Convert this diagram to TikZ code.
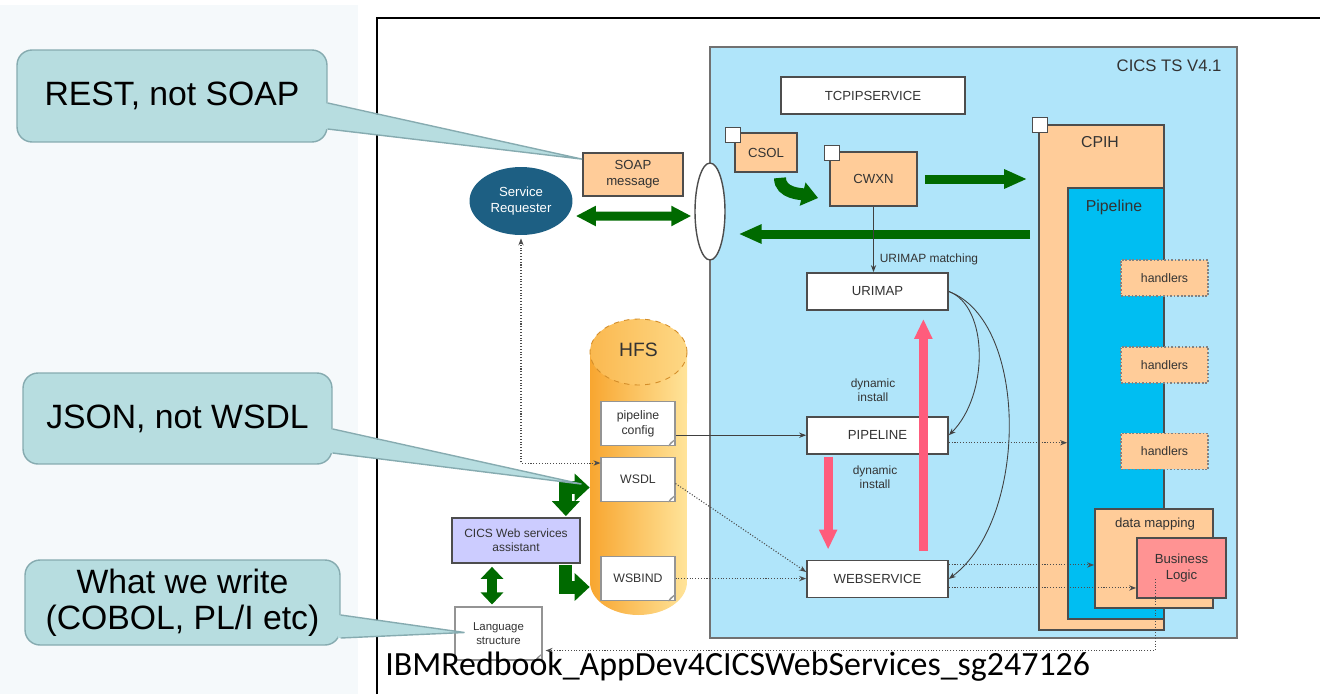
\documentclass[tikz,border=0pt]{standalone}
\usepackage{fontspec}
\setmainfont{Liberation Sans}
\newfontfamily\captionfont{Carlito}
\usetikzlibrary{shapes.geometric, arrows.meta, positioning, fit, calc}

\definecolor{panelbg}{HTML}{F5F9FB}
\definecolor{calloutfill}{HTML}{B7DDE0}
\definecolor{calloutline}{HTML}{86ABB0}
\definecolor{cicsblue}{HTML}{B0E5FA}
\definecolor{pipeblue}{HTML}{00BEF2}
\definecolor{peach}{HTML}{FFCC99}
\definecolor{logicpink}{HTML}{FF9393}
\definecolor{lavender}{HTML}{CCCCFF}
\definecolor{reqblue}{HTML}{1D5F83}
\definecolor{arrowgreen}{HTML}{006A00}
\definecolor{installpink}{HTML}{FF5C7C}
\definecolor{boxline}{HTML}{4D4D4D}
\definecolor{textgray}{HTML}{333333}
\definecolor{hfsorange}{HTML}{F8A630}
\definecolor{hfsyellow}{HTML}{FFE49A}

\begin{document}
\begin{tikzpicture}[
    x=0.02cm, y=-0.02cm,
    callout/.style={rectangle, rounded corners=0.3cm, draw=calloutline, line width=0.8pt, fill=calloutfill, inner sep=0pt, align=center, font=\fontsize{19.2}{20.4}\selectfont},
    res/.style={rectangle, draw=boxline, line width=1pt, fill=white, minimum width=2.82cm, minimum height=0.74cm, font=\fontsize{7.5}{9}\selectfont, text=textgray},
    task/.style={rectangle, draw=boxline, line width=1pt, fill=peach, inner sep=0pt, align=center, font=\fontsize{7.5}{9}\selectfont, text=textgray},
    tab/.style={rectangle, draw=boxline, line width=0.8pt, fill=white, minimum size=0.3cm, inner sep=0pt},
    handler/.style={rectangle, draw=boxline!70, densely dotted, line width=1pt, fill=peach, minimum width=1.74cm, minimum height=0.72cm, font=\fontsize{7}{8}\selectfont, text=textgray},
    doc/.style={rectangle, draw=boxline!60, line width=0.6pt, fill=white, minimum width=1.48cm, minimum height=0.88cm, align=center, font=\fontsize{7}{8.4}\selectfont, text=textgray},
    note/.style={align=center, font=\fontsize{6.8}{8}\selectfont, text=textgray},
    title/.style={font=\fontsize{9}{11}\selectfont, text=textgray},
    greenarrow/.style={draw=arrowgreen, line width=0.18cm, -{Triangle[length=0.46cm, width=0.36cm]}},
    greenboth/.style={draw=arrowgreen, line width=0.18cm, {Triangle[length=0.4cm, width=0.38cm]}-{Triangle[length=0.4cm, width=0.38cm]}},
    fatgreen/.style={draw=arrowgreen, line width=0.26cm, -{Triangle[length=0.3cm, width=0.54cm]}},
    fatgreenboth/.style={draw=arrowgreen, line width=0.26cm, {Triangle[length=0.3cm, width=0.54cm]}-{Triangle[length=0.3cm, width=0.54cm]}},
    pinkarrow/.style={draw=installpink, line width=0.18cm, -{Triangle[length=0.4cm, width=0.34cm]}},
    thinarrow/.style={draw=black!75, line width=0.5pt, -{Stealth[length=4pt, width=3pt]}},
    dotarrow/.style={draw=black!70, densely dotted, line width=0.6pt, -{Stealth[length=4pt, width=3pt]}},
    dotboth/.style={draw=black!70, densely dotted, line width=0.6pt, {Stealth[length=4pt, width=3pt]}-{Stealth[length=4pt, width=3pt]}}
    ]

    \useasboundingbox (0,0) rectangle (1320,694);

    % Backgrounds and frame
    \fill[panelbg] (0,5) rectangle (358,694);
    \draw[black, line width=1.3pt] (377,694) -- (377,18) -- (1320,18);

    % Callouts
    \node[callout, minimum width=6.2cm, minimum height=1.84cm] (rest) at (172,96) {REST, not SOAP};
    \node[callout, minimum width=6.18cm, minimum height=1.82cm] (json) at (177.5,418.5) {JSON, not WSDL};
    \node[callout, minimum width=6.3cm, minimum height=1.7cm] (write) at (182.5,602.5) {What we write\\(COBOL, PL/I etc)};

    % CICS region
    \node[draw=boxline!80, line width=1pt, fill=cicsblue, fit={(710,47) (1237,638)}, inner sep=0pt] (cics) {};
    \node[anchor=east, inner sep=0pt, font=\fontsize{9.5}{11}\selectfont, text=textgray] (cicsname) at ($(cics.north east)+(-16,20)$) {CICS TS V4.1};

    \node[res, minimum width=3.68cm] (tcpip) at (873,95.5) {TCPIPSERVICE};
    \node[task, minimum width=1.24cm, minimum height=0.78cm] (csol) at (766,152.5) {CSOL};
    \node[task, minimum width=1.74cm, minimum height=1.08cm] (cwxn) at (873.5,179) {CWXN};
    \node[tab] (csoltab) at ($(csol.north west)+(-1,3)$) {};
    \node[tab] (cwxntab) at ($(cwxn.north west)+(3,2)$) {};

    % CPIH and the pipeline
    \node[task, fit={(1039,125) (1164,630)}] (cpih) {};
    \node[tab] (cpihtab) at ($(cpih.north west)+(2,1)$) {};
    \node[title] (cpihname) at (1100,142) {CPIH};
    \node[rectangle, draw=boxline, line width=1pt, fill=pipeblue, fit={(1068,188) (1164,619)}, inner sep=0pt] (pipeline) {};
    \node[title] (pipename) at (1114,207) {Pipeline};
    \node[handler] (h1) at (1164.5,278) {handlers};
    \node[handler, below=0.98cm of h1] (h2) {handlers};
    \node[handler, below=0.98cm of h2] (h3) {handlers};
    \node[task, fit={(1095,509) (1213,608)}] (dmap) {};
    \node[note, font=\fontsize{7.5}{9}\selectfont] (dmapname) at (1155,524) {data mapping};
    \node[rectangle, draw=boxline, line width=1pt, fill=logicpink, minimum width=1.78cm, minimum height=1.2cm, inner sep=0pt, align=center, font=\fontsize{7.5}{9}\selectfont, text=textgray] (logic) at (1181.5,568) {Business\\Logic};

    % Resources
    \node[res] (urimap) at (877.5,291.5) {URIMAP};
    \node[res, below=2.1cm of urimap] (pipe) {PIPELINE};
    \node[res, below=2.1cm of pipe] (websvc) {WEBSERVICE};

    % Requester side
    \node[ellipse, draw=boxline, line width=0.8pt, fill=white, minimum width=0.6cm, minimum height=1.94cm] (oval) at (710,211.5) {};
    \node[ellipse, fill=reqblue, minimum width=2.06cm, minimum height=1.36cm, align=center, text=white, font=\fontsize{7.5}{9}\selectfont] (req) at (521,201) {Service\\Requester};
    \node[task, minimum width=2cm, minimum height=0.86cm] (soap) at (633,174.5) {SOAP\\message};

    % HFS cylinder
    \shade[left color=hfsorange, right color=hfsyellow] (590,352) -- (590,582) arc[start angle=180, end angle=360, x radius=0.97cm, y radius=0.66cm] -- (687,352) -- cycle;
    \shade[left color=hfsorange!70!hfsyellow, right color=hfsyellow!80!hfsorange] (638.5,352) ellipse [x radius=0.97cm, y radius=0.66cm];
    \draw[dashed, draw=hfsorange!85!black, line width=0.5pt] (638.5,352) ellipse [x radius=0.97cm, y radius=0.66cm];
    \node[fit={(590,319) (687,615)}, inner sep=0pt] (hfsbody) {};
    \node[font=\fontsize{11}{13}\selectfont, text=textgray] (hfs) at (638.5,350) {HFS};

    \node[doc] (pcfg) at (638,423.5) {pipeline\\config};
    \node[doc, below=0.22cm of pcfg] (wsdl) {WSDL};
    \node[doc, below=1.08cm of wsdl] (wsbind) {WSBIND};
    \node[rectangle, draw=boxline, line width=1pt, fill=lavender, minimum width=2.56cm, minimum height=0.9cm, align=center, font=\fontsize{6.8}{8}\selectfont, text=textgray] (asst) at (516,540.5) {CICS Web services\\assistant};
    \node[doc, minimum width=1.74cm, minimum height=1.06cm, font=\fontsize{6.5}{7.8}\selectfont] (lang) at (498.5,633.5) {Language\\structure};
    \foreach \d in {pcfg, wsdl, wsbind, lang}
        \draw[boxline!60, line width=0.5pt, fill=white] ($(\d.south east)+(-7,0)$) -- ($(\d.south east)+(0,-7)$) -- ($(\d.south east)+(-5,-3)$) -- cycle;

    % Green flows
    \draw[greenboth] ($(req.east)+(3,15)$) -- ($(oval.west)+(-3,4.5)$);
    \draw[draw=arrowgreen, line width=0.24cm, -{Triangle[length=0.32cm, width=0.46cm]}] ($(csol.south)+(14,5)$) .. controls +(0,16) and +(-16,-4) .. ($(cwxn.west)+(-11,19)$);
    \draw[greenarrow] ($(cwxn.east)+(7,0)$) -- ($(cwxn.east -| cpih.west)+(-11,0)$);
    \coordinate (replyin) at (1030,234);
    \draw[greenarrow] (replyin) -- ($(replyin -| oval.east)+(13,0)$);
    \draw[fatgreenboth] ($(asst.north east)+(-15,-1)$) |- ($(hfsbody.west)+(0,20.5)$);
    \draw[fatgreen] ($(asst.south east)+(-15,1)$) |- ($(hfsbody.west)+(0,120)$);
    \draw[greenboth, line width=0.2cm, {Triangle[length=0.24cm, width=0.44cm]}-{Triangle[length=0.24cm, width=0.44cm]}] ($(asst.south)+(-24,3)$) -- ($(lang.north)+(-6.5,-2)$);

    % Resource flows
    \draw[thinarrow] (cwxn.south) -- (cwxn.south |- urimap.north) node[pos=0.8, right, note] {URIMAP matching};
    \draw[thinarrow] (urimap.east) .. controls +(40,15) and +(40,-40) .. (pipe.east);
    \draw[thinarrow] (urimap.east) .. controls +(80,30) and +(80,-60) .. (websvc.east);
    \draw[pinkarrow] ($(pipe.south west)+(22,2)$) -- ($(websvc.north west)+(22,-10)$);
    \draw[pinkarrow] ($(websvc.north east)+(-25.5,-9)$) -- ($(urimap.south east)+(-25.5,8)$);
    \node[note] (install1) at (873,390) {dynamic\\install};
    \node[note] (install2) at (875,477) {dynamic\\install};
    \draw[thinarrow] (pipe.west -| pcfg.east) -- (pipe.west);
    \draw[dotarrow] ($(wsdl.east)+(0,4)$) -- ($(websvc.west)+(0,-7)$);
    \draw[dotarrow] (wsbind.east) -- (wsbind.east -| websvc.west);
    \draw[dotboth] ($(wsdl.north west)+(0,6)$) -| ($(req.south)+(0,3)$);
    \draw[dotarrow] ($(pipe.east)+(0,7.5)$) -- ($(pipe.east -| pipeline.west)+(0,7.5)$);
    \draw[dotarrow] ($(websvc.east)+(0,-14)$) -- ($(websvc.east -| dmap.west)+(0,-14)$);
    \draw[dotarrow] ($(websvc.east)+(0,9)$) -- ($(websvc.east -| logic.west)+(0,9)$);
    \draw[dotarrow] ($(logic.south west)+(19,-20)$) |- ($(lang.south east)+(3,-10)$);

    % Callout pointers
    \fill[calloutfill] ($(rest.east)+(-3,7)$) -- ($(soap.north west)+(0,7)$) -- ($(rest.east)+(-3,33)$) -- cycle;
    \draw[calloutline, line width=0.8pt] ($(rest.east)+(0,7)$) -- ($(soap.north west)+(0,7)$) -- ($(rest.east)+(0,33)$);
    \fill[calloutfill] ($(json.east)+(-3,10.5)$) -- ($(wsdl.west)+(-19,4.5)$) -- ($(json.east)+(-3,34.5)$) -- cycle;
    \draw[calloutline, line width=0.8pt] ($(json.east)+(0,10.5)$) -- ($(wsdl.west)+(-19,4.5)$) -- ($(json.east)+(0,34.5)$);
    \fill[calloutfill] ($(write.east)+(-3,12.5)$) -- ($(lang.west)+(10,-1)$) -- ($(write.east)+(-3,35.5)$) -- cycle;
    \draw[calloutline, line width=0.8pt] ($(write.east)+(0,12.5)$) -- ($(lang.west)+(10,-1)$) -- ($(write.east)+(0,35.5)$);

    % Source
    \node[anchor=west, inner sep=0pt, font=\captionfont\fontsize{19.3}{22}\selectfont] (source) at (385,667) {IBMRedbook\_AppDev4CICSWebServices\_sg247126};

\end{tikzpicture}
\end{document}
